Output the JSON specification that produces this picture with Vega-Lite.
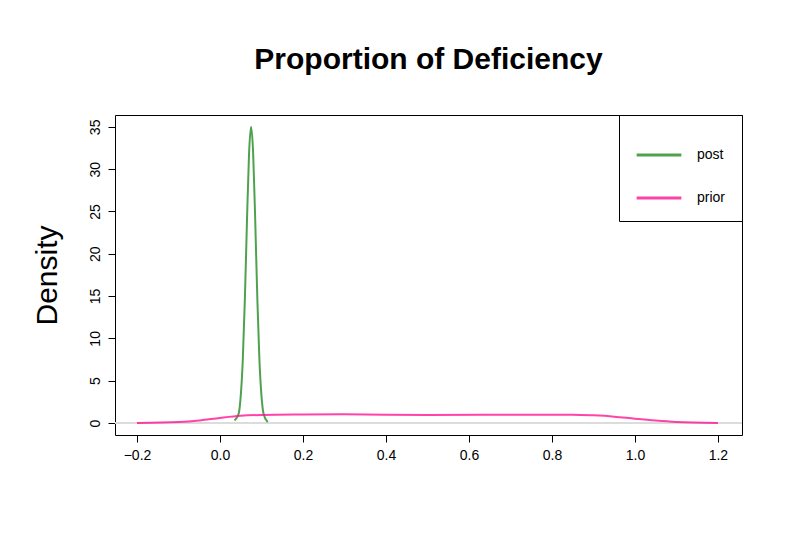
{
  "$schema": "https://vega.github.io/schema/vega-lite/v6.json",
  "autosize": {"type": "none"},
  "width": 627,
  "height": 320,
  "padding": {"left": 115, "top": 115, "right": 58, "bottom": 115},
  "background": "white",
  "title": {"text": "Proportion of Deficiency", "fontSize": 30, "font": "Liberation Sans", "fontWeight": "bold", "color": "black", "offset": 40, "anchor": "middle"},
  "config": {
    "view": {"stroke": "black", "strokeWidth": 1},
    "font": "Liberation Sans",
    "axis": {"domain": false, "grid": false, "tickColor": "black", "tickSize": 7, "labelFontSize": 14, "labelColor": "black", "labelPadding": 6}
  },
  "data": {"values": [
    {"x": 0.035, "d": 0.3, "s": "post"},
    {"x": 0.045, "d": 1.1, "s": "post"},
    {"x": 0.05, "d": 3.2, "s": "post"},
    {"x": 0.055, "d": 7.5, "s": "post"},
    {"x": 0.06, "d": 14.7, "s": "post"},
    {"x": 0.065, "d": 23.8, "s": "post"},
    {"x": 0.07, "d": 31.8, "s": "post"},
    {"x": 0.075, "d": 35, "s": "post"},
    {"x": 0.08, "d": 31.8, "s": "post"},
    {"x": 0.085, "d": 23.8, "s": "post"},
    {"x": 0.09, "d": 14.7, "s": "post"},
    {"x": 0.095, "d": 7.5, "s": "post"},
    {"x": 0.1, "d": 3.2, "s": "post"},
    {"x": 0.105, "d": 1.1, "s": "post"},
    {"x": 0.115, "d": 0.1, "s": "post"},
    {"x": -0.2, "d": 0.01, "s": "prior"},
    {"x": -0.1, "d": 0.12, "s": "prior"},
    {"x": -0.05, "d": 0.3, "s": "prior"},
    {"x": 0.0, "d": 0.6, "s": "prior"},
    {"x": 0.05, "d": 0.85, "s": "prior"},
    {"x": 0.1, "d": 0.95, "s": "prior"},
    {"x": 0.2, "d": 1.0, "s": "prior"},
    {"x": 0.3, "d": 1.02, "s": "prior"},
    {"x": 0.5, "d": 0.95, "s": "prior"},
    {"x": 0.7, "d": 0.98, "s": "prior"},
    {"x": 0.85, "d": 0.98, "s": "prior"},
    {"x": 0.9, "d": 0.9, "s": "prior"},
    {"x": 0.95, "d": 0.75, "s": "prior"},
    {"x": 1.0, "d": 0.5, "s": "prior"},
    {"x": 1.05, "d": 0.28, "s": "prior"},
    {"x": 1.1, "d": 0.12, "s": "prior"},
    {"x": 1.2, "d": 0.01, "s": "prior"}
  ]},
  "layer": [
    {
      "mark": {"type": "rule", "color": "#dddddd"},
      "encoding": {"y": {"datum": 0, "type": "quantitative"}}
    },
    {
      "mark": {"type": "line", "strokeWidth": 2, "opacity": 0.8, "interpolate": "monotone"},
      "encoding": {
        "x": {"field": "x", "type": "quantitative", "title": null,
          "scale": {"domain": [-0.253, 1.258], "nice": false, "zero": false},
          "axis": {"values": [-0.2, 0, 0.2, 0.4, 0.6, 0.8, 1.0, 1.2], "format": ".1f"}},
        "y": {"field": "d", "type": "quantitative", "title": "Density",
          "scale": {"domain": [-1.42, 36.4], "nice": false, "zero": false},
          "axis": {"values": [0, 5, 10, 15, 20, 25, 30, 35], "labelAngle": -90, "labelAlign": "center", "labelBaseline": "bottom", "titleFontSize": 30, "titleFontWeight": "normal", "titleColor": "black", "titlePadding": 26}},
        "color": {"field": "s", "type": "nominal",
          "scale": {"domain": ["post", "prior"], "range": ["#228b22", "#ff1493"]},
          "legend": {"title": null, "orient": "top-right", "offset": 0, "strokeColor": "black", "fillColor": "white", "padding": 16, "symbolType": "stroke", "symbolSize": 2000, "symbolStrokeWidth": 3, "labelFontSize": 14, "labelColor": "black", "rowPadding": 12, "labelOffset": 14}},
        "detail": {"field": "s"}
      }
    }
  ]
}
